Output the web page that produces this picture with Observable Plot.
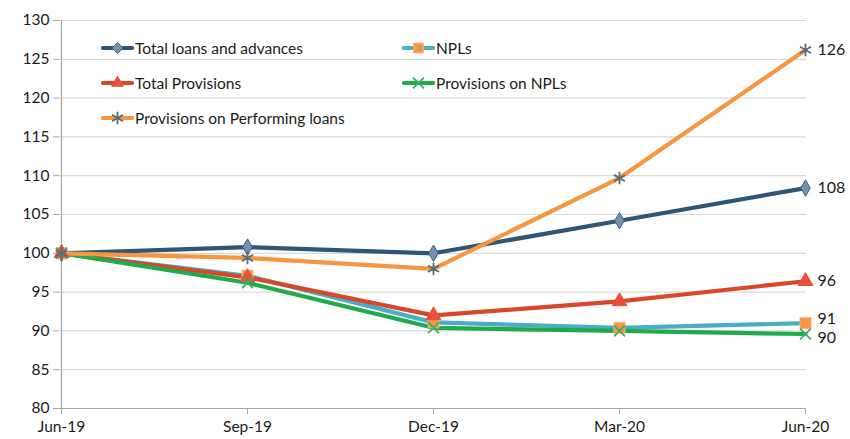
<!DOCTYPE html>
<html>
<head>
<meta charset="utf-8">
<script src="https://cdn.jsdelivr.net/npm/d3@7"></script>
<script src="https://cdn.jsdelivr.net/npm/@observablehq/plot@0.6"></script>
<style>
  html, body { margin: 0; padding: 0; background: #fff; }
  #wrap { position: relative; width: 850px; height: 439px; font-family: Lato, "Open Sans", sans-serif; }
  #legend { position: absolute; left: 0; top: 0; width: 850px; height: 140px; pointer-events: none; }
  .item { position: absolute; display: flex; align-items: center; font-size: 15.5px; color: #1a1a1a; white-space: nowrap; }
  .item svg { display: block; margin-right: 1px; }
</style>
</head>
<body>
<div id="wrap"><div id="legend"></div></div>
<script>
const months = ["Jun-19", "Sep-19", "Dec-19", "Mar-20", "Jun-20"];
const totalLoans = [100, 100.8, 100, 104.2, 108.4];
const npls = [100, 97.1, 91.1, 90.4, 91.0];
const totalProvisions = [100, 96.9, 92.0, 93.8, 96.4];
const provisionsNPLs = [100, 96.2, 90.4, 90.0, 89.6];
const provisionsPerforming = [100, 99.4, 98.0, 109.7, 126.2];
const yTicks = [80, 85, 90, 95, 100, 105, 110, 115, 120, 125, 130];

const seriesDefs = [
  {name: "Total loans and advances", values: totalLoans, color: "#2f5577", symbol: "diamond", fill: "#7392b2", stroke: "#3e6285", r: 5, labelDy: 0},
  {name: "NPLs", values: npls, color: "#4aacc6", symbol: "square", fill: "#f79646", stroke: "#f8b07a", r: 6.2, labelDy: -4},
  {name: "Total Provisions", values: totalProvisions, color: "#d9472b", symbol: "triangle", fill: "#e9503a", stroke: "#e9503a", r: 5.5, labelDy: 0},
  {name: "Provisions on NPLs", values: provisionsNPLs, color: "#1faa4b", symbol: "times", fill: "none", stroke: "#3cae66", r: 5, labelDy: 4},
  {name: "Provisions on Performing loans", values: provisionsPerforming, color: "#f7963f", symbol: "asterisk", fill: "none", stroke: "#5d6b78", r: 6, labelDy: 0}
];

const rows = seriesDefs.flatMap(s => s.values.map((v, i) => ({series: s.name, month: months[i], value: v})));

const marks = [
  Plot.gridY(yTicks, {stroke: "#d9d9d9", strokeOpacity: 1, strokeWidth: 1.2}),
  Plot.axisY({ticks: yTicks, tickSize: 6, tickPadding: 4, fontSize: 15.5, stroke: "#a6a6a6", fill: "#1a1a1a", label: null}),
  Plot.axisX({tickSize: 6, tickPadding: 6, fontSize: 15.5, stroke: "#a6a6a6", fill: "#1a1a1a", label: null}),
  Plot.ruleX([months[0]], {stroke: "#a6a6a6", strokeWidth: 1.2}),
  Plot.ruleY([yTicks[0]], {stroke: "#a6a6a6", strokeWidth: 1.2})
];
for (const s of seriesDefs) {
  const d = rows.filter(r => r.series === s.name);
  marks.push(Plot.line(d, {x: "month", y: "value", stroke: s.color, strokeWidth: 4.2, strokeLinejoin: "round", strokeLinecap: "round"}));
}
for (const s of seriesDefs) {
  const d = rows.filter(r => r.series === s.name);
  marks.push(Plot.dot(d, {x: "month", y: "value", symbol: () => s.symbol, r: s.r, fill: s.fill, stroke: s.stroke, strokeWidth: s.fill === "none" ? 1.8 : 1}));
  const last = d[d.length - 1];
  marks.push(Plot.text([last], {x: "month", y: "value", text: r => String(Math.round(r.value)), dx: 12, dy: s.labelDy, textAnchor: "start", fontSize: 16, fill: "#1a1a1a"}));
}

const chart = Plot.plot({
  width: 850,
  height: 439,
  marginLeft: 59,
  marginRight: 44,
  marginTop: 20,
  marginBottom: 31,
  style: {fontFamily: "Lato, 'Open Sans', sans-serif", background: "#fff", overflow: "visible"},
  x: {type: "point", domain: months, padding: 0},
  y: {domain: [80, 130]},
  symbol: {type: "identity"},
  marks
});
document.getElementById("wrap").prepend(chart);

// legend overlay
const legendPos = [
  {left: 101, top: 38}, {left: 402, top: 38},
  {left: 101, top: 73}, {left: 402, top: 73},
  {left: 101, top: 108}
];
const legend = d3.select("#legend");
seriesDefs.forEach((s, i) => {
  const item = legend.append("div").attr("class", "item").style("left", legendPos[i].left + "px").style("top", legendPos[i].top + "px");
  const svg = item.append("svg").attr("width", 33).attr("height", 20);
  svg.append("line").attr("x1", 2).attr("x2", 31).attr("y1", 10).attr("y2", 10).attr("stroke", s.color).attr("stroke-width", 4.2).attr("stroke-linecap", "round");
  const sym = {diamond: d3.symbolDiamond2, square: d3.symbolSquare2, triangle: d3.symbolTriangle2, times: d3.symbolTimes, asterisk: d3.symbolAsterisk}[s.symbol];
  const area = Math.PI * s.r * s.r;
  svg.append("path").attr("transform", "translate(16.5,10)").attr("d", d3.symbol(sym, area)())
    .attr("fill", s.fill).attr("stroke", s.stroke).attr("stroke-width", s.fill === "none" ? 1.8 : 1);
  item.append("span").text(s.name);
});
</script>
</body>
</html>
